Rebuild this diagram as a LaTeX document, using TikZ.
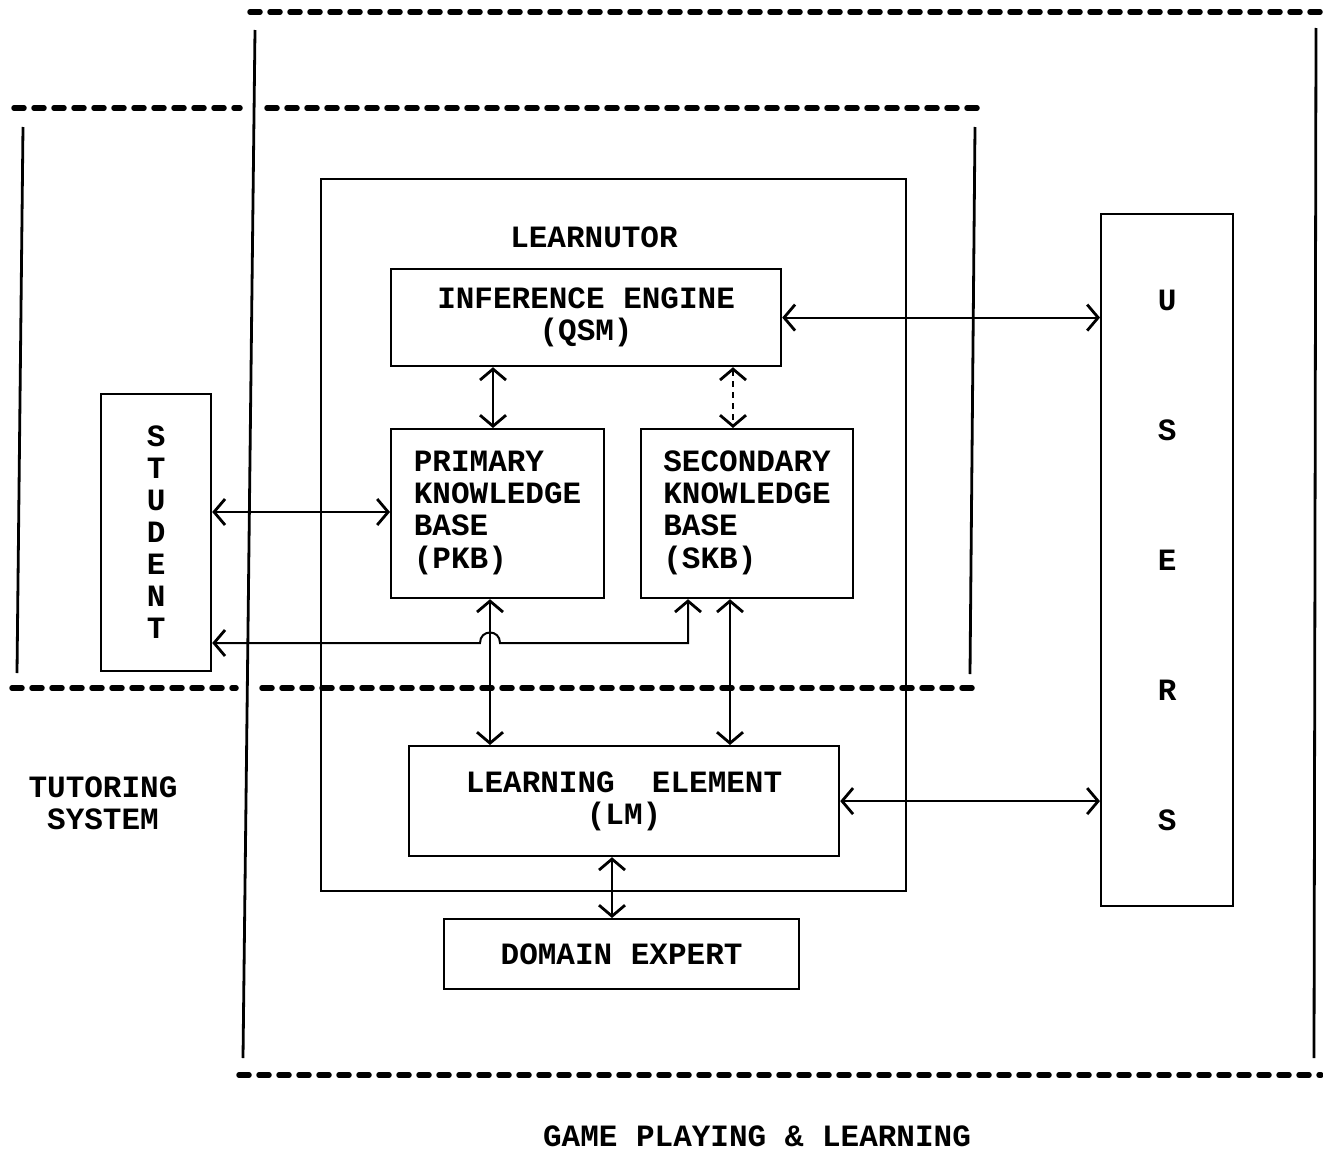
\documentclass[tikz,border=0pt]{standalone}
\usepackage{fontspec}
\setmainfont{Liberation Mono}
\usetikzlibrary{arrows.meta}
\begin{document}
\begin{tikzpicture}[x=1pt,y=-1pt,
  box/.style={draw, line width=2.2pt, rectangle, inner sep=0pt, anchor=north west,
    font=\fontsize{31}{32}\selectfont\bfseries, align=center},
  lbl/.style={font=\fontsize{31}{32}\selectfont\bfseries, align=center, inner sep=0pt},
  frame/.style={line width=2.8pt},
  dline/.style={line width=5.5pt, dash pattern=on 10pt off 10pt, line cap=round},
  mytip/.tip={Straight Barb[length=11pt,width=26pt,line width=2.8pt]},
  dbl/.style={line width=2pt, {mytip}-{mytip}},
]
\useasboundingbox (0,0) rectangle (1323,1151);
% frames
\draw[dline] (250,12) -- (1321,12);
\draw[dline] (239,1075) -- (1321,1075);
\draw[frame] (255,30) -- (243,1058);
\draw[frame] (1316,28) -- (1314,1058);
\draw[dline] (14,108) -- (240,108);
\draw[dline] (267,108) -- (980,108);
\draw[dline] (12,688) -- (236,688);
\draw[dline] (262,688) -- (976,688);
\draw[frame] (23,127) -- (17,673);
\draw[frame] (975,127) -- (970,674);
% boxes
\node[box, minimum width=585, minimum height=712] (lt) at (320,178) {};
\node[lbl] (ltl) at (594,237) {LEARNUTOR};
\node[box, minimum width=390, minimum height=97] (ie) at (390,268) {INFERENCE ENGINE\\(QSM)};
\node[box, minimum width=213, minimum height=169] (pkb) at (390,428)
  {\begin{tabular}{@{}l@{}}PRIMARY\\KNOWLEDGE\\BASE\\(PKB)\end{tabular}};
\node[box, minimum width=212, minimum height=169] (skb) at (640,428)
  {\begin{tabular}{@{}l@{}}SECONDARY\\KNOWLEDGE\\BASE\\(SKB)\end{tabular}};
\node[box, minimum width=430, minimum height=110] (lm) at (408,745) {LEARNING\ \ ELEMENT\\(LM)};
\node[box, minimum width=355, minimum height=70] (de) at (443,918) {DOMAIN EXPERT};
\node[box, minimum width=110, minimum height=277] (stu) at (100,393) {S\\T\\U\\D\\E\\N\\T};
\node[box, minimum width=132, minimum height=692] (us) at (1100,213)
  {U\\[98pt]S\\[98pt]E\\[98pt]R\\[98pt]S};
\node[lbl] (ts) at (103,803) {TUTORING\\SYSTEM};
\node[lbl] (gp) at (757,1136) {GAME PLAYING \& LEARNING};
% helper coordinates
\coordinate (x493) at (493,0);
\coordinate (x733) at (733,0);
\coordinate (x490) at (490,0);
\coordinate (x730) at (730,0);
\coordinate (x612) at (612,0);
\coordinate (x688) at (688,0);
\coordinate (y512) at (0,512);
\coordinate (y643) at (0,643);
\coordinate (j1) at (500,643);
\coordinate (j2) at (480,643);
% connectors
\draw[dbl] (ie.south -| x493) -- (pkb.north -| x493);
\draw[dbl, dash pattern=on 6pt off 5pt] (ie.south -| x733) -- (skb.north -| x733);
\draw[dbl] (pkb.south -| x490) -- (lm.north -| x490);
\draw[dbl] (skb.south -| x730) -- (lm.north -| x730);
\draw[dbl] (stu.east |- y512) -- (pkb.west |- y512);
\draw[dbl] (ie.east) -- (us.west |- ie.east);
\draw[dbl] (lm.east) -- (us.west |- lm.east);
\draw[dbl] (lm.south -| x612) -- (de.north -| x612);
\draw[dbl] (skb.south -| x688) -- (x688 |- y643) -- (j1)
  .. controls (500,629) and (480,629) .. (j2) -- (stu.east |- y643);
\end{tikzpicture}
\end{document}
